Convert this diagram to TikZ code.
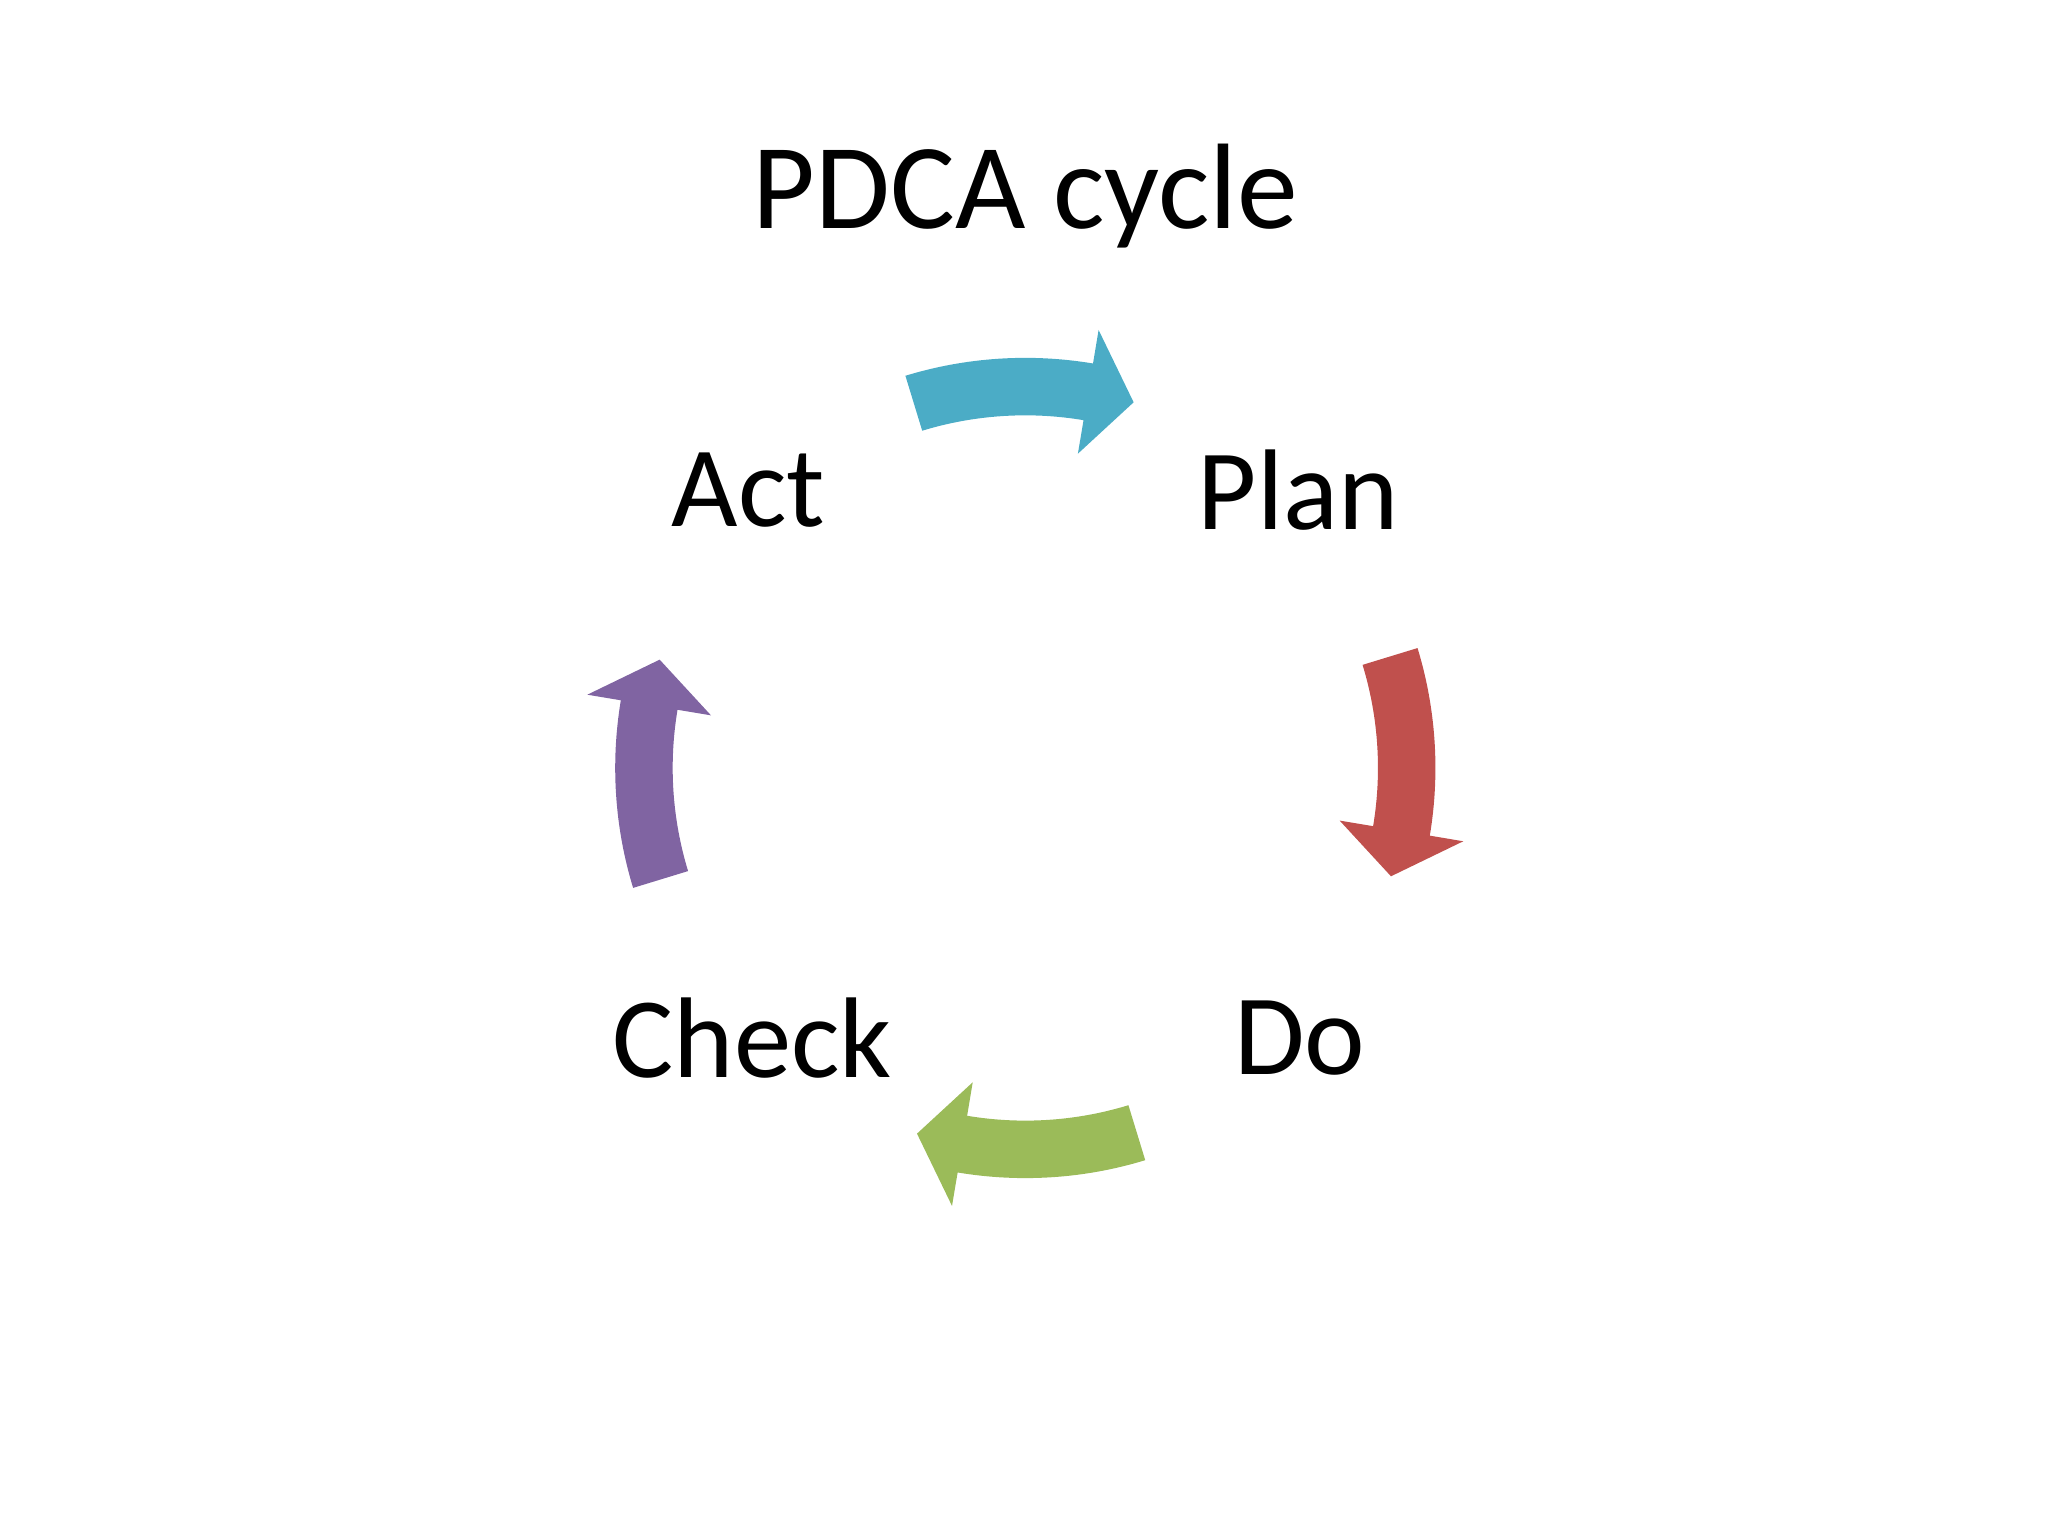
\documentclass[tikz,border=0pt]{standalone}
\usepackage{fontspec}
\setmainfont{Carlito}
\definecolor{cyanA}{HTML}{4BACC6}
\definecolor{redA}{HTML}{C0504D}
\definecolor{greenA}{HTML}{9BBB59}
\definecolor{purpleA}{HTML}{8064A2}
\tikzset{lbl/.style={font=\fontsize{25}{30}\selectfont, inner sep=0pt}}
\begin{document}
\begin{tikzpicture}
\useasboundingbox (0,0) rectangle (15.68,11.76);
\coordinate (C) at (7.85,5.88);
\node[lbl, font=\fontsize{26.5}{32}\selectfont] (title) at (7.85,10.26) {PDCA cycle};
\node[lbl] (plan) at (9.94,8.01) {Plan};
\node[lbl] (do) at (9.95,3.81) {Do};
\node[lbl] (check) at (5.76,3.81) {Check};
\node[lbl] (act) at (5.73,8.01) {Act};
\foreach \c/\o in {cyanA/0, redA/-90, greenA/-180, purpleA/-270}{
  \pgfmathsetmacro\aa{107+\o}
  \pgfmathsetmacro\ab{80.5+\o}
  \pgfmathsetmacro\ac{73.5+\o}
  \fill[\c, shift={(C)}] (\aa:3.14) arc[start angle=\aa, end angle=\ab, radius=3.14]
    -- (\ab:3.40) -- (\ac:2.92) -- (\ab:2.44) -- (\ab:2.70)
    arc[start angle=\ab, end angle=\aa, radius=2.70] -- cycle;
}
\end{tikzpicture}
\end{document}
